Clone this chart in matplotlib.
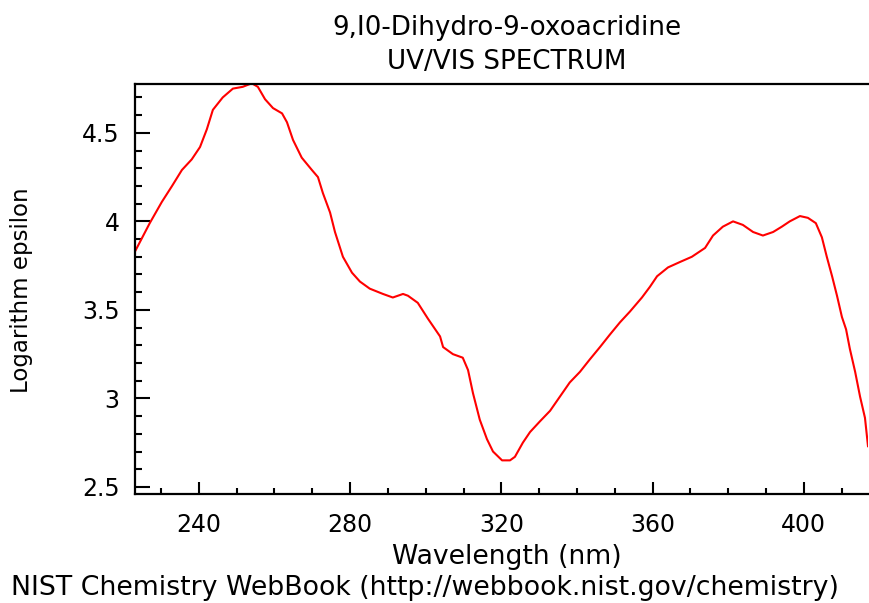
import matplotlib
matplotlib.use("Agg")
import matplotlib.pyplot as plt
from matplotlib.ticker import MultipleLocator

wavelength = [223.1, 227.0, 230.2, 232.9, 235.5, 238.1, 240.3, 242.1, 243.7, 246.3,
              249.0, 251.6, 254.0, 255.6, 257.5, 259.6, 262.0, 263.3, 264.9, 267.2,
              269.9, 271.5, 272.8, 274.7, 276.0, 278.1, 280.5, 282.6, 285.2, 288.7,
              291.3, 294.0, 295.3, 297.9, 300.6, 303.8, 304.6, 307.2, 309.8, 311.2,
              312.5, 314.3, 316.2, 317.8, 320.2, 322.3, 323.6, 325.7, 327.6, 330.2,
              332.9, 335.5, 338.1, 340.8, 343.4, 346.1, 348.7, 351.4, 354.0, 357.2,
              359.3, 361.2, 364.1, 367.2, 370.4, 373.9, 376.0, 378.6, 381.3, 383.9,
              386.6, 389.2, 391.9, 394.2, 396.3, 399.0, 401.1, 403.2, 404.8, 406.1,
              407.5, 408.8, 410.1, 411.2, 412.2, 413.6, 414.9, 416.2, 417.0]
log_eps = [3.83, 3.99, 4.11, 4.20, 4.29, 4.35, 4.42, 4.52, 4.63, 4.70,
           4.75, 4.76, 4.78, 4.76, 4.69, 4.64, 4.61, 4.56, 4.46, 4.36,
           4.29, 4.25, 4.16, 4.05, 3.94, 3.80, 3.71, 3.66, 3.62, 3.59,
           3.57, 3.59, 3.58, 3.54, 3.45, 3.35, 3.29, 3.25, 3.23, 3.16,
           3.03, 2.88, 2.77, 2.70, 2.65, 2.65, 2.67, 2.75, 2.81, 2.87,
           2.93, 3.01, 3.09, 3.15, 3.22, 3.29, 3.36, 3.43, 3.49, 3.57,
           3.63, 3.69, 3.74, 3.77, 3.80, 3.85, 3.92, 3.97, 4.00, 3.98,
           3.94, 3.92, 3.94, 3.97, 4.00, 4.03, 4.02, 3.99, 3.91, 3.80,
           3.69, 3.58, 3.46, 3.39, 3.28, 3.15, 3.01, 2.89, 2.73]

x_ticks = [240, 280, 320, 360, 400]
y_ticks = [2.5, 3, 3.5, 4, 4.5]
y_tick_labels = ["2.5", "3", "3.5", "4", "4.5"]
title_lines = ["9,I0-Dihydro-9-oxoacridine", "UV/VIS SPECTRUM"]

plt.rcParams['font.family'] = ['DejaVu Sans']
fig = plt.figure(figsize=(8.69, 6.03), dpi=100)
ax = fig.add_axes([135/869, 1-494/603, (868-135)/869, (494-84)/603])
ax.plot(wavelength, log_eps, color='red', lw=1.5)
ax.set_xlim(223.1, 417.0)
ax.set_ylim(2.46, 4.776)
ax.set_xticks(x_ticks)
ax.set_yticks(y_ticks)
ax.set_yticklabels(y_tick_labels)
ax.xaxis.set_minor_locator(MultipleLocator(10))
ax.yaxis.set_minor_locator(MultipleLocator(0.1))
ax.tick_params(axis='x', which='major', direction='in', length=9, width=1.5, pad=14, labelsize=17)
ax.tick_params(axis='x', which='minor', direction='in', length=4, width=1.5)
ax.tick_params(axis='y', which='major', direction='in', length=11, width=1.5, pad=11, labelsize=17)
ax.tick_params(axis='y', which='minor', direction='in', length=5, width=1.5)
for s in ['left', 'bottom', 'top']:
    ax.spines[s].set_linewidth(1.6)
ax.spines['right'].set_visible(False)

fig.text(507/869, 1-28/603, title_lines[0], ha='center', va='center', fontsize=18.8)
fig.text(507/869, 1-62/603, title_lines[1], ha='center', va='center', fontsize=18.8)
fig.text(507/869, 1-557/603, "Wavelength (nm)", ha='center', va='center', fontsize=19.2)
fig.text(22/869, 1-290/603, "Logarithm epsilon", ha='center', va='center', rotation=90, fontsize=16.5)
fig.text(425/869, 1-588/603, "NIST Chemistry WebBook (http://webbook.nist.gov/chemistry)",
         ha='center', va='center', fontsize=19.3)

fig.savefig("out.png", dpi=100)
